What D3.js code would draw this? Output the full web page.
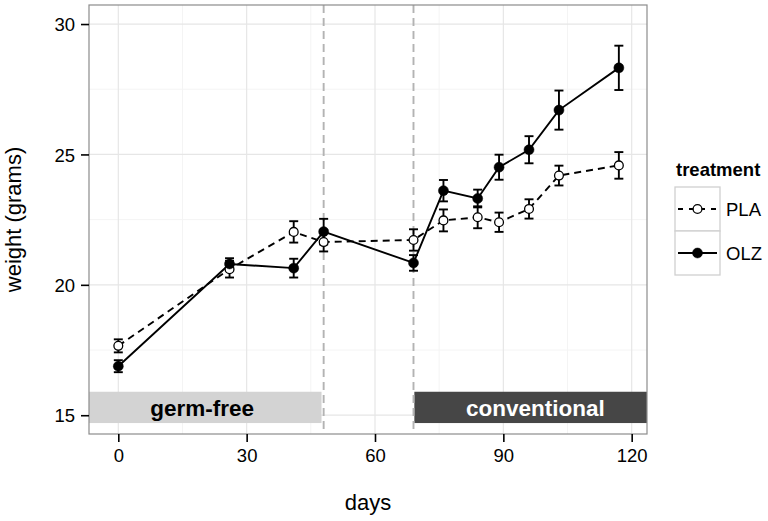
<!DOCTYPE html>
<html>
<head>
<meta charset="utf-8">
<script src="https://cdn.jsdelivr.net/npm/d3@7"></script>
<style>
  html, body { margin: 0; padding: 0; background: #fff; }
  svg { display: block; font-family: "Liberation Sans", Arial, Helvetica, sans-serif; }
</style>
</head>
<body>
<svg id="chart" width="768" height="521"></svg>
<script>
// ---- data ----
const days = [0, 26, 41, 48, 69, 76, 84, 89, 96, 103, 117];
const plaMean = [17.66, 20.60, 22.03, 21.64, 21.72, 22.47, 22.59, 22.40, 22.91, 24.19, 24.58];
const plaErr  = [0.25, 0.32, 0.41, 0.36, 0.41, 0.42, 0.42, 0.37, 0.37, 0.38, 0.51];
const olzMean = [16.88, 20.80, 20.64, 22.04, 20.84, 23.61, 23.31, 24.51, 25.18, 26.70, 28.32];
const olzErr  = [0.23, 0.22, 0.36, 0.49, 0.30, 0.41, 0.34, 0.48, 0.52, 0.75, 0.85];
const treatments = ["PLA", "OLZ"];
const xTicks = [0, 30, 60, 90, 120];
const yTicks = [15, 20, 25, 30];
const xMinor = [15, 45, 75, 105];
const yMinor = [17.5, 22.5, 27.5];
const phaseLines = [48, 69];
const phaseNames = ["germ-free", "conventional"];
const phaseStart = [-Infinity, 69.2];
const phaseEnd = [47.5, Infinity];
const phaseLabelX = [19.6, 97.5];
const phaseYMin = 14.7, phaseYMax = 15.9, phaseLabelY = 15;

// ---- layout ----
const svg = d3.select("#chart");
const P = { l: 89, r: 647, t: 5, b: 434 };
const x = d3.scaleLinear().domain([-6.85, 123.58]).range([P.l, P.r]);
const y = d3.scaleLinear().domain([14.28, 30.73]).range([P.b, P.t]);
const clampX = v => v === -Infinity ? P.l : (v === Infinity ? P.r : x(v));
const LW = 1.9;

const series = [
  { name: "PLA", mean: plaMean, err: plaErr, fill: "#fff", dash: "7,5" },
  { name: "OLZ", mean: olzMean, err: olzErr, fill: "#000", dash: null }
];

// panel background
svg.append("rect").attr("x", P.l).attr("y", P.t).attr("width", P.r - P.l).attr("height", P.b - P.t).attr("fill", "#fff");

// grid
const g = svg.append("g");
g.selectAll(".mx").data(xMinor).join("line")
  .attr("x1", d => x(d)).attr("x2", d => x(d)).attr("y1", P.t).attr("y2", P.b)
  .attr("stroke", "#f4f4f4").attr("stroke-width", 1);
g.selectAll(".my").data(yMinor).join("line")
  .attr("y1", d => y(d)).attr("y2", d => y(d)).attr("x1", P.l).attr("x2", P.r)
  .attr("stroke", "#f4f4f4").attr("stroke-width", 1);
g.selectAll(".Mx").data(xTicks).join("line")
  .attr("x1", d => x(d)).attr("x2", d => x(d)).attr("y1", P.t).attr("y2", P.b)
  .attr("stroke", "#e6e6e6").attr("stroke-width", 1.2);
g.selectAll(".My").data(yTicks).join("line")
  .attr("y1", d => y(d)).attr("y2", d => y(d)).attr("x1", P.l).attr("x2", P.r)
  .attr("stroke", "#e6e6e6").attr("stroke-width", 1.2);

// phase rects
const phaseFill = ["#d3d3d3", "#464646"];
const phaseText = ["#000", "#fff"];
phaseNames.forEach((n, i) => {
  svg.append("rect")
    .attr("x", clampX(phaseStart[i])).attr("width", clampX(phaseEnd[i]) - clampX(phaseStart[i]))
    .attr("y", y(phaseYMax)).attr("height", y(phaseYMin) - y(phaseYMax))
    .attr("fill", phaseFill[i]);
  svg.append("text").attr("x", x(phaseLabelX[i])).attr("y", y(phaseLabelY) + 0.5)
    .attr("text-anchor", "middle").attr("font-weight", "bold").attr("font-size", 22.5)
    .attr("fill", phaseText[i]).text(n);
});

// vertical dashed lines
svg.selectAll(".vl").data(phaseLines).join("line")
  .attr("x1", d => x(d)).attr("x2", d => x(d)).attr("y1", P.t).attr("y2", P.b)
  .attr("stroke", "#b3b3b3").attr("stroke-width", 1.9).attr("stroke-dasharray", "8,5");

// lines
const line = d3.line().x(d => x(d[0])).y(d => y(d[1]));
series.forEach(s => {
  const pts = days.map((d, i) => [d, s.mean[i]]);
  svg.append("path").datum(pts).attr("d", line)
    .attr("fill", "none").attr("stroke", "#000").attr("stroke-width", LW)
    .attr("stroke-dasharray", s.dash);
});

// error bars
series.forEach(s => {
  const eg = svg.append("g").attr("stroke", "#000").attr("stroke-width", LW).attr("fill", "none");
  days.forEach((d, i) => {
    const lo = y(s.mean[i] - s.err[i]), hi = y(s.mean[i] + s.err[i]);
    const xl = x(d - 1.05), xr = x(d + 1.05), xc = x(d);
    eg.append("line").attr("x1", xc).attr("x2", xc).attr("y1", lo).attr("y2", hi);
    eg.append("line").attr("x1", xl).attr("x2", xr).attr("y1", lo).attr("y2", lo);
    eg.append("line").attr("x1", xl).attr("x2", xr).attr("y1", hi).attr("y2", hi);
  });
});

// points
series.forEach(s => {
  svg.append("g").selectAll("circle").data(days).join("circle")
    .attr("cx", d => x(d)).attr("cy", (d, i) => y(s.mean[i]))
    .attr("r", s.name === "PLA" ? 4.4 : 5)
    .attr("fill", s.fill).attr("stroke", "#000").attr("stroke-width", s.name === "PLA" ? 1.3 : 0.5);
});

// panel border
svg.append("rect").attr("x", P.l).attr("y", P.t).attr("width", P.r - P.l).attr("height", P.b - P.t)
  .attr("fill", "none").attr("stroke", "#8c8c8c").attr("stroke-width", 1.2);

// axes
const xAxis = d3.axisBottom(x).tickValues(xTicks).tickSize(8).tickPadding(6).tickFormat(d3.format("d"));
const yAxis = d3.axisLeft(y).tickValues(yTicks).tickSize(8).tickPadding(6).tickFormat(d3.format("d"));
const xa = svg.append("g").attr("transform", `translate(0,${P.b})`).call(xAxis);
const ya = svg.append("g").attr("transform", `translate(${P.l},0)`).call(yAxis);
[xa, ya].forEach(a => {
  a.select(".domain").remove();
  a.selectAll(".tick line").attr("stroke", "#000").attr("stroke-width", 1.6);
  a.selectAll(".tick text").attr("fill", "#000").attr("font-size", 18.5)
    .attr("font-family", "Liberation Sans, Arial, sans-serif");
});
xa.selectAll(".tick text").attr("dy", "0.75em");
ya.selectAll(".tick text").attr("dy", "0.36em");

// axis titles
svg.append("text").attr("x", (P.l + P.r) / 2).attr("y", 510).attr("text-anchor", "middle")
  .attr("font-size", 22).text("days");
svg.append("text").attr("transform", `translate(21,${(P.t + P.b) / 2}) rotate(-90)`)
  .attr("text-anchor", "middle").attr("font-size", 22).text("weight (grams)");

// legend
const L = { x: 675, y: 187, w: 45, h: 44 };
svg.append("text").attr("x", L.x + 1).attr("y", 176).attr("font-size", 18.5).attr("font-weight", "bold").text("treatment");
series.forEach((s, i) => {
  const ky = L.y + i * L.h;
  svg.append("rect").attr("x", L.x).attr("y", ky).attr("width", L.w).attr("height", L.h)
    .attr("fill", "#fff").attr("stroke", "#d0d0d0").attr("stroke-width", 1.3);
  svg.append("line").attr("x1", L.x + 3).attr("x2", L.x + L.w - 3).attr("y1", ky + L.h / 2).attr("y2", ky + L.h / 2)
    .attr("stroke", "#000").attr("stroke-width", LW).attr("stroke-dasharray", s.dash ? "5,6" : null);
  svg.append("circle").attr("cx", L.x + L.w / 2).attr("cy", ky + L.h / 2)
    .attr("r", s.name === "PLA" ? 4.4 : 5).attr("fill", s.fill).attr("stroke", "#000")
    .attr("stroke-width", s.name === "PLA" ? 1.3 : 0.5);
  svg.append("text").attr("x", L.x + L.w + 6).attr("y", ky + L.h / 2).attr("dy", "0.36em")
    .attr("font-size", 18.5).text(treatments[i]);
});
</script>
</body>
</html>
